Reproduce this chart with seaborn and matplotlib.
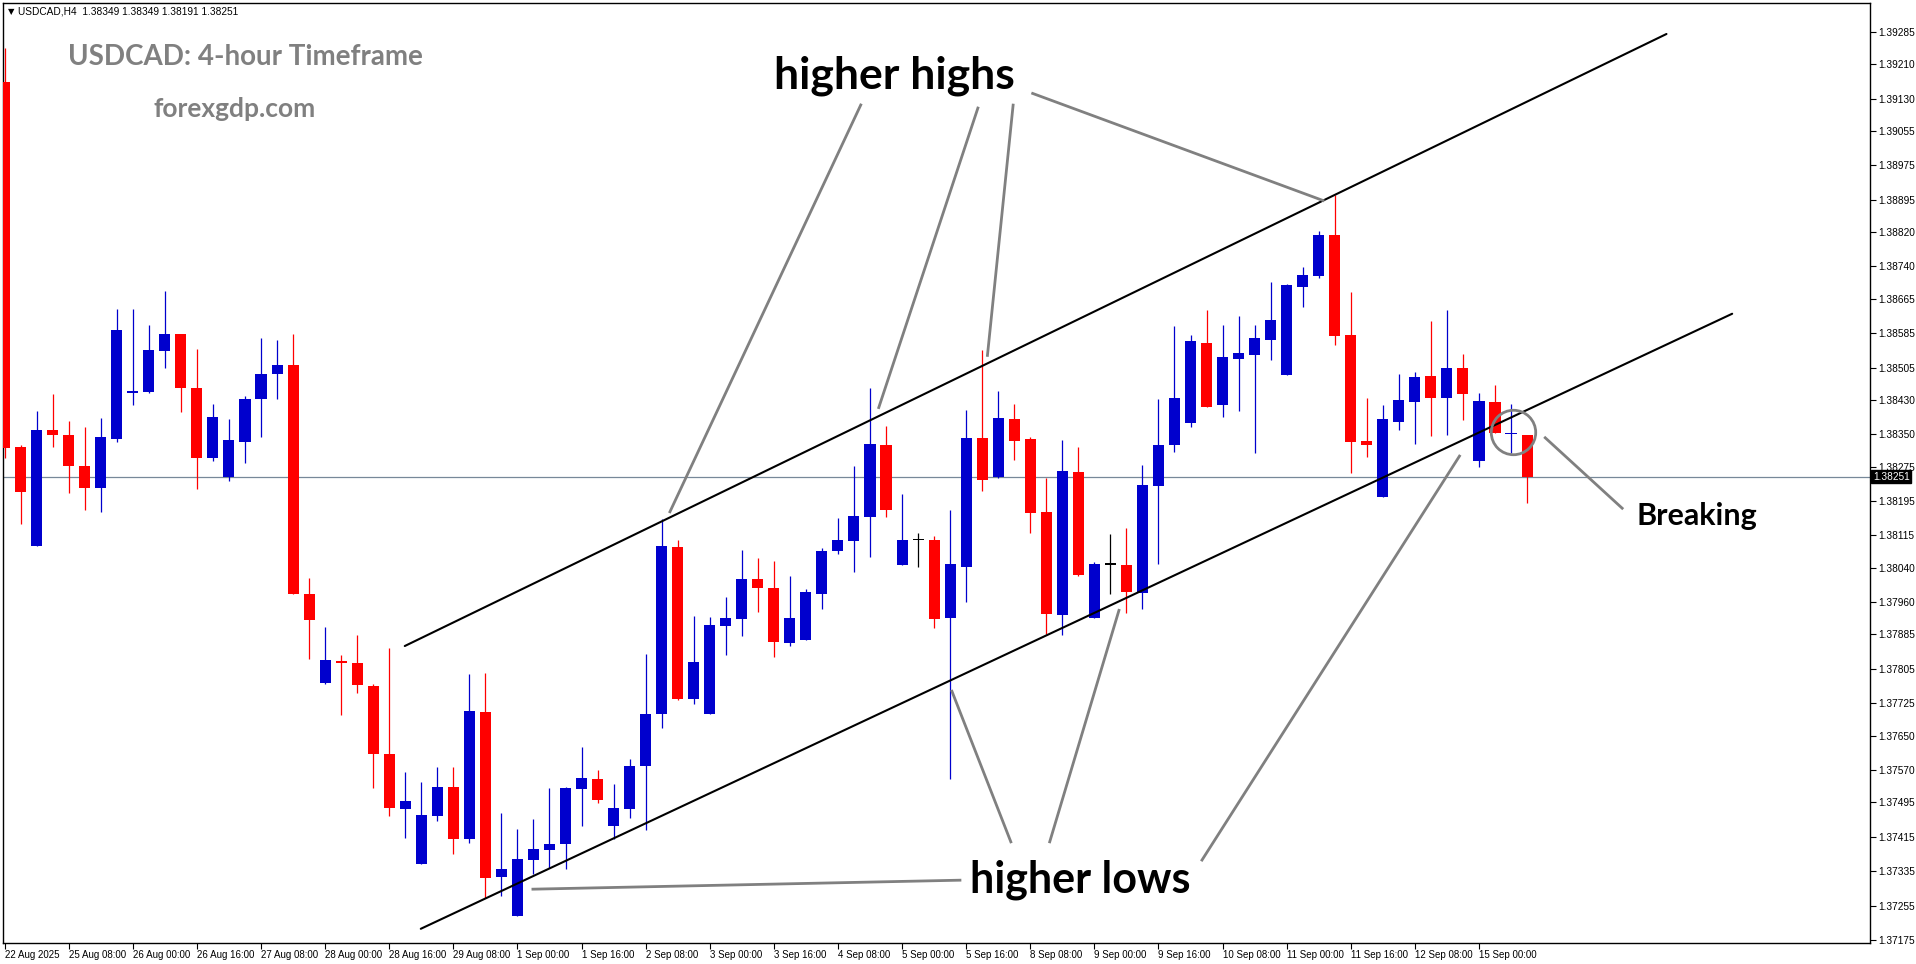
"""
USDCAD H4 candlestick chart with a rising channel, marked higher highs /
higher lows and the breakdown of the lower channel line.
"""
import matplotlib
matplotlib.use("Agg")
import matplotlib.pyplot as plt
import matplotlib.transforms as mtransforms
import numpy as np
import pandas as pd
import seaborn as sns

# --- OHLC (one H4 bar each, 22 Aug 16:00 -> 15 Sep 12:00)
opens = [
    1.39169, 1.38320, 1.38091, 1.38361, 1.38349, 1.38276, 1.38224, 1.38339,
    1.38446, 1.38449, 1.38543, 1.38583, 1.38457, 1.38296, 1.38250, 1.38331,
    1.38431, 1.38489, 1.38511, 1.37980, 1.37772, 1.37823, 1.37819, 1.37766,
    1.37608, 1.37479, 1.37351, 1.37464, 1.37531, 1.37409, 1.37705, 1.37321,
    1.37230, 1.37360, 1.37385, 1.37398, 1.37525, 1.37550, 1.37441, 1.37480,
    1.37580, 1.37699, 1.38088, 1.37734, 1.37699, 1.37905, 1.37921, 1.38014,
    1.37993, 1.37864, 1.37871, 1.37980, 1.38079, 1.38102, 1.38158, 1.38325,
    1.38047, 1.38104, 1.38104, 1.37923, 1.38042, 1.38341, 1.38250, 1.38385,
    1.38338, 1.38169, 1.37930, 1.38262, 1.37923, 1.38047, 1.38046, 1.37981,
    1.38229, 1.38325, 1.38376, 1.38563, 1.38417, 1.38526, 1.38534, 1.38570,
    1.38487, 1.38693, 1.38717, 1.38814, 1.38580, 1.38334, 1.38205, 1.38379,
    1.38425, 1.38485, 1.38434, 1.38503, 1.38287, 1.38424, 1.38350, 1.38349,
]
highs = [
    1.39248, 1.38326, 1.38405, 1.38443, 1.38380, 1.38367, 1.38387, 1.38642,
    1.38642, 1.38605, 1.38682, 1.38583, 1.38547, 1.38420, 1.38385, 1.38440,
    1.38573, 1.38568, 1.38583, 1.38016, 1.37902, 1.37838, 1.37884, 1.37770,
    1.37854, 1.37566, 1.37543, 1.37576, 1.37577, 1.37793, 1.37795, 1.37471,
    1.37433, 1.37455, 1.37529, 1.37530, 1.37624, 1.37571, 1.37538, 1.37596,
    1.37840, 1.38153, 1.38104, 1.37928, 1.37925, 1.37972, 1.38081, 1.38062,
    1.38055, 1.38021, 1.37990, 1.38086, 1.38155, 1.38276, 1.38457, 1.38369,
    1.38211, 1.38120, 1.38114, 1.38174, 1.38406, 1.38545, 1.38450, 1.38420,
    1.38343, 1.38248, 1.38336, 1.38320, 1.38053, 1.38118, 1.38132, 1.38278,
    1.38431, 1.38601, 1.38580, 1.38638, 1.38605, 1.38624, 1.38605, 1.38703,
    1.38700, 1.38738, 1.38823, 1.38907, 1.38680, 1.38434, 1.38417, 1.38489,
    1.38494, 1.38612, 1.38638, 1.38536, 1.38447, 1.38464, 1.38420, 1.38349,
]
lows = [
    1.38295, 1.38142, 1.38091, 1.38320, 1.38214, 1.38174, 1.38170, 1.38331,
    1.38417, 1.38445, 1.38505, 1.38401, 1.38223, 1.38287, 1.38241, 1.38283,
    1.38343, 1.38431, 1.37978, 1.37829, 1.37770, 1.37697, 1.37750, 1.37529,
    1.37462, 1.37413, 1.37351, 1.37451, 1.37374, 1.37401, 1.37273, 1.37277,
    1.37230, 1.37329, 1.37343, 1.37339, 1.37439, 1.37493, 1.37410, 1.37459,
    1.37430, 1.37668, 1.37733, 1.37724, 1.37699, 1.37838, 1.37882, 1.37937,
    1.37833, 1.37857, 1.37871, 1.37945, 1.38072, 1.38031, 1.38065, 1.38158,
    1.38047, 1.38042, 1.37900, 1.37549, 1.37961, 1.38219, 1.38248, 1.38290,
    1.38120, 1.37886, 1.37884, 1.38021, 1.37923, 1.37979, 1.37935, 1.37944,
    1.38048, 1.38308, 1.38366, 1.38413, 1.38390, 1.38403, 1.38306, 1.38522,
    1.38487, 1.38645, 1.38714, 1.38557, 1.38260, 1.38297, 1.38205, 1.38359,
    1.38327, 1.38345, 1.38348, 1.38382, 1.38273, 1.38352, 1.38306, 1.38191,
]
closes = [
    1.38318, 1.38216, 1.38359, 1.38349, 1.38276, 1.38224, 1.38343, 1.38592,
    1.38450, 1.38545, 1.38583, 1.38457, 1.38296, 1.38389, 1.38336, 1.38433,
    1.38489, 1.38511, 1.37980, 1.37919, 1.37826, 1.37818, 1.37767, 1.37608,
    1.37481, 1.37497, 1.37466, 1.37531, 1.37409, 1.37707, 1.37319, 1.37341,
    1.37364, 1.37387, 1.37399, 1.37527, 1.37552, 1.37500, 1.37482, 1.37580,
    1.37700, 1.38090, 1.37736, 1.37821, 1.37907, 1.37923, 1.38014, 1.37993,
    1.37868, 1.37923, 1.37984, 1.38079, 1.38104, 1.38160, 1.38327, 1.38174,
    1.38104, 1.38104, 1.37921, 1.38048, 1.38341, 1.38244, 1.38387, 1.38334,
    1.38167, 1.37932, 1.38264, 1.38023, 1.38048, 1.38047, 1.37984, 1.38232,
    1.38325, 1.38434, 1.38566, 1.38413, 1.38529, 1.38538, 1.38573, 1.38615,
    1.38696, 1.38719, 1.38814, 1.38578, 1.38332, 1.38325, 1.38385, 1.38429,
    1.38482, 1.38434, 1.38505, 1.38443, 1.38427, 1.38352, 1.38352, 1.38251,
]

date_labels = [
    "22 Aug 2025", "25 Aug 08:00", "26 Aug 00:00", "26 Aug 16:00",
    "27 Aug 08:00", "28 Aug 00:00", "28 Aug 16:00", "29 Aug 08:00",
    "1 Sep 00:00", "1 Sep 16:00", "2 Sep 08:00", "3 Sep 00:00",
    "3 Sep 16:00", "4 Sep 08:00", "5 Sep 00:00", "5 Sep 16:00",
    "8 Sep 08:00", "9 Sep 00:00", "9 Sep 16:00", "10 Sep 08:00",
    "11 Sep 00:00", "11 Sep 16:00", "12 Sep 08:00", "15 Sep 00:00",
]
price_labels = [
    "1.39285", "1.39210", "1.39130", "1.39055", "1.38975", "1.38895",
    "1.38820", "1.38740", "1.38665", "1.38585", "1.38505", "1.38430",
    "1.38350", "1.38275", "1.38195", "1.38115", "1.38040", "1.37960",
    "1.37885", "1.37805", "1.37725", "1.37650", "1.37570", "1.37495",
    "1.37415", "1.37335", "1.37255", "1.37175",
]
last_price = 1.38251
header = "USDCAD,H4  1.38349 1.38349 1.38191 1.38251"

# channel lines (bar index, price)
upper_channel = ([24.97, 103.7], [1.37858, 1.39280])
lower_channel = ([25.97, 107.8], [1.37201, 1.38630])

# grey pointer lines (bar index, price)
pointers = [
    ([53.46, 41.48], [1.39118, 1.38167]),
    ([60.76, 54.52], [1.39111, 1.38409]),
    ([62.94, 61.32], [1.39118, 1.38530]),
    ([64.07, 82.35], [1.39143, 1.38892]),
    ([32.88, 59.70], [1.37293, 1.37314]),
    ([62.82, 59.08], [1.37400, 1.37756]),
    ([65.19, 69.56], [1.37400, 1.37944]),
    ([74.67, 90.83], [1.37358, 1.38302]),
    ([96.07, 101.0], [1.38344, 1.38176]),
]
break_circle = (94.12, 1.38356)

BLUE = "#0000CD"
RED = "#FF0000"
GREY = "#808080"

df = pd.DataFrame({"open": opens, "high": highs, "low": lows, "close": closes})
df["bar"] = np.arange(len(df))
df["color"] = np.where(df["close"] > df["open"], BLUE,
                       np.where(df["close"] < df["open"], RED, "black"))
df["body_lo"] = df[["open", "close"]].min(axis=1)
df["body_h"] = (df["close"] - df["open"]).abs().clip(lower=0.00003)

sns.set_theme(style="white")
plt.rcParams["font.family"] = ["Liberation Sans", "DejaVu Sans"]

W, H = 1916, 964
fig = plt.figure(figsize=(W / 100, H / 100), dpi=100)
ax = fig.add_axes([3 / W, 21 / H, 1867 / W, 940 / H])

# candles
ax.vlines(df["bar"], df["low"], df["high"], colors=df["color"], lw=0.9, zorder=2)
ax.bar(df["bar"], df["body_h"], bottom=df["body_lo"], width=0.69,
       color=df["color"], linewidth=0, zorder=3)

# last price line
ax.axhline(last_price, color="#778899", lw=0.9, zorder=1)

# channel
for xs, ys in (upper_channel, lower_channel):
    sns.lineplot(x=xs, y=ys, ax=ax, color="black", lw=1.5, zorder=4)

for xs, ys in pointers:
    ax.plot(xs, ys, color=GREY, lw=2.0, zorder=5, solid_capstyle="butt")
ax.plot([break_circle[0]], [break_circle[1]], marker="o", ms=32,
        mfc="none", mec=GREY, mew=2.0, zorder=5)

ax.set_xlim(-0.1, 116.4)
ax.set_ylim(1.37168, 1.39352)

# axes / ticks
ax.yaxis.tick_right()
ax.set_yticks([float(s) for s in price_labels])
ax.set_yticklabels(price_labels)
ax.set_xticks(np.arange(0, 93, 4))
ax.set_xticklabels(date_labels)
for lbl in ax.get_xticklabels():
    lbl.set_ha("left")
ax.tick_params(axis="x", bottom=True, direction="out", length=4, width=0.8,
               color="black", labelsize=7, pad=1, labelcolor="black")
ax.tick_params(axis="y", right=True, left=False, direction="out", length=4,
               width=0.8, color="black", labelsize=7.3, pad=2, labelcolor="black")
for sp in ax.spines.values():
    sp.set_color("black")
    sp.set_linewidth(1.0)
ax.set_xlabel("")
ax.set_ylabel("")

trans = mtransforms.blended_transform_factory(ax.transAxes, ax.transData)
ax.text(1.0015, last_price, "1.38251", transform=trans, ha="left", va="center",
        fontsize=7.3, color="white", clip_on=False, zorder=10,
        bbox=dict(boxstyle="square,pad=0.15", fc="black", ec="black"))

# header and titles
fig.text(8 / W, 1 - 12 / H, "\u25BC", fontsize=6, family="DejaVu Sans",
         va="center", ha="left", color="black")
fig.text(18 / W, 1 - 11 / H, header, fontsize=7.3, va="center", ha="left",
         color="black")
ax.text(0.130, 0.9426, "USDCAD: 4-hour Timeframe", transform=ax.transAxes,
        ha="center", va="center", fontsize=20, fontweight="bold",
        family="Lato", color=GREY)
ax.text(0.1243, 0.8872, "forexgdp.com", transform=ax.transAxes,
        ha="center", va="center", fontsize=19, fontweight="bold",
        family="Lato", color=GREY)

ax.text(48.03, 1.39183, "higher highs", ha="left", va="center",
        fontsize=32, fontweight="bold", family="Lato", color="black", zorder=6)
ax.text(60.26, 1.37314, "higher lows", ha="left", va="center",
        fontsize=31, fontweight="bold", family="Lato", color="black", zorder=6)
ax.text(101.8, 1.38160, "Breaking", ha="left", va="center",
        fontsize=22, fontweight="bold", family="Lato", color="black", zorder=6)

fig.savefig("out.png", dpi=100, facecolor="white")
